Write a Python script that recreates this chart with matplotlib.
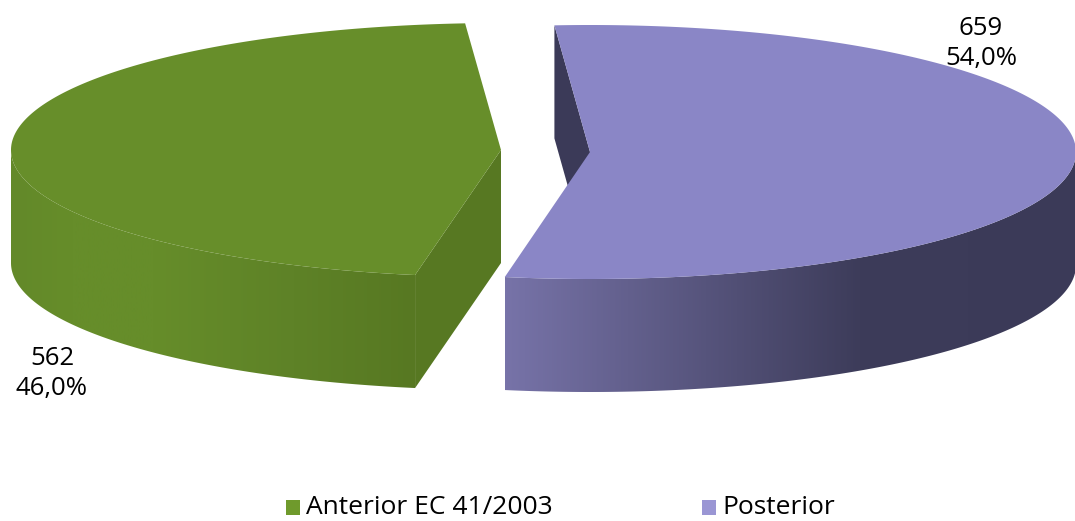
import numpy as np
import matplotlib
matplotlib.use("Agg")
import matplotlib.pyplot as plt
from matplotlib.patches import Polygon, Rectangle
from matplotlib.colors import LinearSegmentedColormap

categories = ["Anterior EC 41/2003", "Posterior"]
values = [562, 659]
percent_labels = ["46,0%", "54,0%"]
top_colors = ["#678e2a", "#8a86c6"]
inner_wall_colors = ["#577822", "#3b3a58"]

W, H = 1075, 521
fig = plt.figure(figsize=(W / 100, H / 100), dpi=100)
ax = fig.add_axes([0, 0, 1, 1])
ax.set_xlim(0, W)
ax.set_ylim(H, 0)
ax.axis("off")

B, DEPTH = 127, 113
START = -4.2
total = sum(values)
sweep = [v / total * 360 for v in values]


def arc(cx, cy, A, a0, a1, dy=0, n=240):
    t = np.radians(np.linspace(a0, a1, n))
    return np.column_stack([cx + A * np.sin(t), cy - B * np.cos(t) + dy])


def gradient_wall(poly, stops, x0, x1):
    cmap = LinearSegmentedColormap.from_list("w", stops)
    g = np.linspace(0, 1, 512).reshape(1, -1)
    im = ax.imshow(g, cmap=cmap, extent=[x0, x1, H, 0], aspect="auto", zorder=2, vmin=0, vmax=1)
    patch = Polygon(poly, closed=True, transform=ax.transData, fc="none", ec="none")
    ax.add_patch(patch)
    im.set_clip_path(patch)


# --- Green slice (anterior) ---
cx, cy, A = 501, 150, 490
a0, a1 = START - sweep[0], START
p_start = arc(cx, cy, A, a0, a0, n=1)[0]
ax.add_patch(Polygon([(cx, cy), p_start, p_start + [0, DEPTH], (cx, cy + DEPTH)],
                     fc=inner_wall_colors[0], ec="none", zorder=1))
outer = arc(cx, cy, A, a0, -90)
wall = np.vstack([outer, (outer + [0, DEPTH])[::-1]])
gradient_wall(wall, [(0, "#638929"), (0.15, "#668d2a"), (0.35, "#668d2a"), (0.7, "#5e8227"), (1, "#577822")],
              outer[:, 0].min(), outer[:, 0].max())
top = np.vstack([[cx, cy], arc(cx, cy, A, a0, a1)])
ax.add_patch(Polygon(top, fc=top_colors[0], ec="none", zorder=3))

# --- Purple slice (posterior) ---
cx, cy, A = 590, 152, 486
a0, a1 = START, START + sweep[1]
p_start = arc(cx, cy, A, a0, a0, n=1)[0]
ax.add_patch(Polygon([(cx, cy), p_start, p_start + [0, DEPTH], (cx, cy + DEPTH)],
                     fc=inner_wall_colors[1], ec="none", zorder=1))
outer = arc(cx, cy, A, 90, a1)
wall = np.vstack([outer, (outer + [0, DEPTH])[::-1]])
gradient_wall(wall, [(0, "#7773a8"), (0.62, "#3d3c5a"), (1, "#3b3a58")],
              outer[:, 0].min(), outer[:, 0].max())
top = np.vstack([[cx, cy], arc(cx, cy, A, a0, a1)])
ax.add_patch(Polygon(top, fc=top_colors[1], ec="none", zorder=3))

# --- Data labels ---
FONT = "Open Sans"
lab = dict(ha="center", va="center", fontsize=18.5, color="black", zorder=5, family=FONT)
ax.text(981, 28.5, str(values[1]), **lab)
ax.text(981, 59, percent_labels[1], **lab)
ax.text(52, 358.5, str(values[0]), **lab)
ax.text(52, 388.5, percent_labels[0], **lab)

# --- Legend ---
for x, y, c, name in [(286, 508, "#6f9a2c", categories[0]), (702, 508, "#9a96d4", categories[1])]:
    ax.add_patch(Rectangle((x, y - 8), 14, 15, fc=c, ec="none", zorder=5))
    ax.text(x + 20, y - 1, name, ha="left", va="center", fontsize=19, color="black", zorder=5, family=FONT)

fig.savefig("out.png", dpi=100, facecolor="white")
